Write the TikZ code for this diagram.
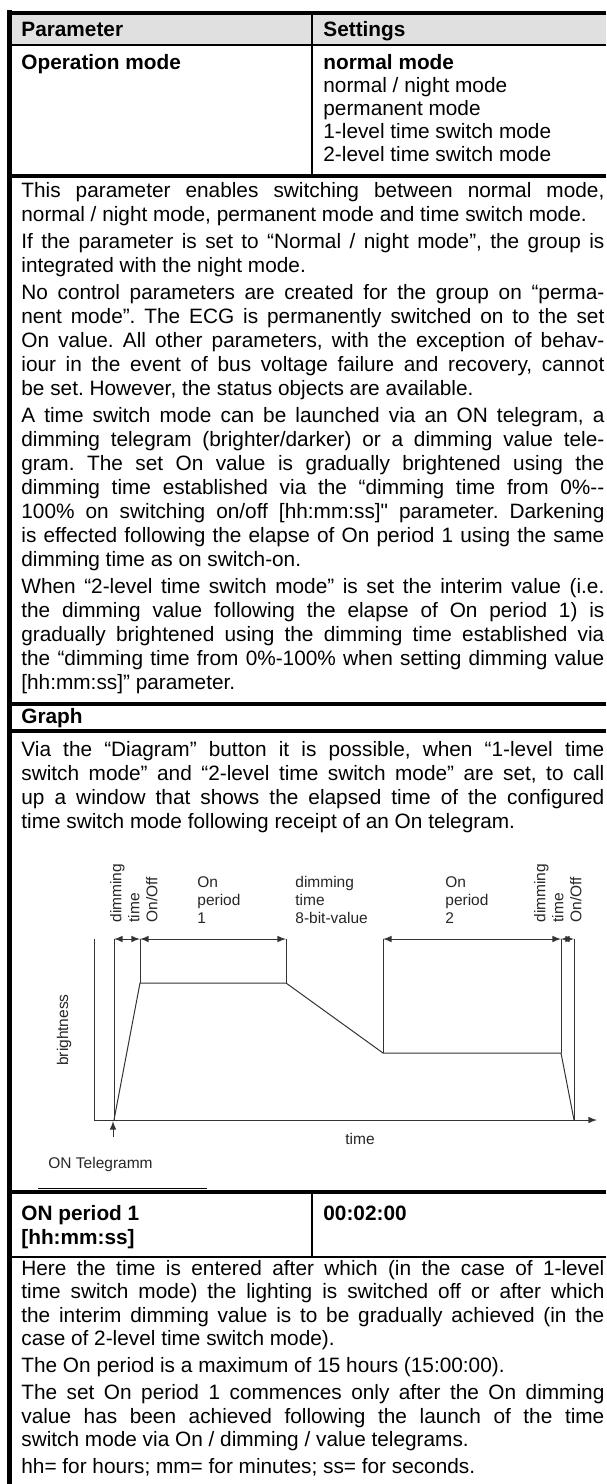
\documentclass[tikz,border=0pt]{standalone}
\usepackage{fontspec}
\setmainfont{Liberation Sans}[Ligatures=TeXOff]
\usetikzlibrary{arrows,shapes}

\newcommand{\jl}[1]{\makebox[291.5pt][s]{#1}}

\tikzset{
  celltext/.style={anchor=base west, inner sep=0pt, font=\fontsize{10.4}{12}\selectfont},
  cellhead/.style={celltext, font=\fontsize{10.4}{12}\selectfont\bfseries},
  plotlabel/.style={inner sep=0pt, align=left, font=\fontsize{7.75}{9}\selectfont, text=black!85},
  plotline/.style={draw=black!80, line width=0.5pt},
  hrule/.style={line width=2pt},
  vrule/.style={line width=1pt},
}

\frenchspacing
\begin{document}
\begin{tikzpicture}[x=0.5pt,y=-0.5pt]
\useasboundingbox (0,0) rectangle (606,1484);
% table frame
\fill[black!12] (12,15) rectangle (606,44);
\draw[hrule] (7,12.5) -- (606,12.5);
\draw[line width=1.25pt] (12,45) -- (606,45);
\draw[line width=2.5pt] (9.5,10) -- (9.5,1484);
\draw[vrule] (312,15) -- (312,174);
\draw[hrule] (7,176) -- (606,176);
\draw[hrule] (7,704) -- (606,704);
\draw[hrule] (7,731) -- (606,731);
\draw[line width=0.5pt] (38,1188.5) -- (207,1188.5);
\draw[hrule] (7,1192) -- (606,1192);
\draw[vrule] (312,1194) -- (312,1256);
\draw[line width=1pt] (12,1256.5) -- (606,1256.5);
% header and operation mode
\node[cellhead] (par) at (21,36) {Parameter};
\node[cellhead] (set) at (323,36) {Settings};
\node[cellhead] (opm) at (21,69) {Operation mode};
\node[cellhead] (nm) at (323,69) {normal mode};
\node[celltext] (nn) at (323,92) {normal / night mode};
\node[celltext] (pm) at (323,115) {permanent mode};
\node[celltext] (lv1) at (323,138) {1-level time switch mode};
\node[celltext] (lv2) at (323,161) {2-level time switch mode};
% description
\node[celltext] (b1) at (21,197) {\jl{This parameter enables switching between normal mode,}};
\node[celltext] (b2) at (21,221) {normal / night mode, permanent mode and time switch mode.};
\node[celltext] (b3) at (21,248) {\jl{If the parameter is set to “Normal / night mode”, the group is}};
\node[celltext] (b4) at (21,272) {integrated with the night mode.};
\node[celltext] (b5) at (21,299) {\jl{No control parameters are created for the group on “perma-}};
\node[celltext] (b6) at (21,323) {\jl{nent mode”. The ECG is permanently switched on to the set}};
\node[celltext] (b7) at (21,347) {\jl{On value. All other parameters, with the exception of behav-}};
\node[celltext] (b8) at (21,371) {\jl{iour in the event of bus voltage failure and recovery, cannot}};
\node[celltext] (b9) at (21,395) {be set. However, the status objects are available.};
\node[celltext] (b10) at (21,422) {\jl{A time switch mode can be launched via an ON telegram, a}};
\node[celltext] (b11) at (21,446) {\jl{dimming telegram (brighter/darker) or a dimming value tele-}};
\node[celltext] (b12) at (21,470) {\jl{gram. The set On value is gradually brightened using the}};
\node[celltext] (b13) at (21,494) {\jl{dimming time established via the “dimming time from 0\%--}};
\node[celltext] (b14) at (21,518) {\jl{100\% on switching on/off [hh:mm:ss]" parameter. Darkening}};
\node[celltext] (b15) at (21,542) {\jl{is effected following the elapse of On period 1 using the same}};
\node[celltext] (b16) at (21,566) {dimming time as on switch-on.};
\node[celltext] (b17) at (21,593) {\jl{When “2-level time switch mode” is set the interim value (i.e.}};
\node[celltext] (b18) at (21,617) {\jl{the dimming value following the elapse of On period 1) is}};
\node[celltext] (b19) at (21,641) {\jl{gradually brightened using the dimming time established via}};
\node[celltext] (b20) at (21,665) {\jl{the “dimming time from 0\%-100\% when setting dimming value}};
\node[celltext] (b21) at (21,689) {[hh:mm:ss]” parameter.};
% graph section
\node[cellhead] (gra) at (21,723) {Graph};
\node[celltext] (v1) at (21,756) {\jl{Via the “Diagram” button it is possible, when “1-level time}};
\node[celltext] (v2) at (21,780) {\jl{switch mode” and “2-level time switch mode” are set, to call}};
\node[celltext] (v3) at (21,804) {\jl{up a window that shows the elapsed time of the configured}};
\node[celltext] (v4) at (21,828) {time switch mode following receipt of an On telegram.};
% plot labels
\node[plotlabel, rotate=90, anchor=south west] (dtl) at (158,923) {dimming\\time\\On/Off};
\node[plotlabel, anchor=south west] (op1) at (197,924) {On\\period\\1};
\node[plotlabel, anchor=south west] (dt8) at (295,924) {dimming\\time\\8-bit-value};
\node[plotlabel, anchor=south west] (op2) at (445,924) {On\\period\\2};
\node[plotlabel, rotate=90, anchor=south west] (dtr) at (582,923) {dimming\\time\\On/Off};
\node[plotlabel, rotate=90] (bri) at (64,1030) {brightness};
\node[plotlabel, anchor=base] (tim) at (360,1144) {time};
\node[plotlabel, anchor=base west] (ont) at (48,1168) {ON Telegramm};
% plot points
\coordinate (o) at (94,1120);
\coordinate (ytop) at (94,939);
\coordinate (xend) at (597,1120);
\coordinate (s0) at (114,1120);
\coordinate (p1) at (140,983);
\coordinate (p2) at (286,983);
\coordinate (p3) at (383,1053);
\coordinate (p4) at (561,1053);
\coordinate (s1) at (574,1120);
\coordinate (d0) at (114,939);
\coordinate (d1) at (140,939);
\coordinate (d2) at (286,939);
\coordinate (d3) at (383,939);
\coordinate (d4) at (561,939);
\coordinate (d5) at (574,939);
\coordinate (ontail) at (113,1137);
\coordinate (ontip) at (113,1121);
% axes
\draw[plotline] (ytop) -- (o);
\draw[plotline, -latex] (o) -- (xend);
% brightness curve
\draw[plotline] (s0) -- (p1) -- (p2) -- (p3) -- (p4) -- (s1);
% time markers
\draw[plotline] (d0) -- (s0);
\draw[plotline] (d1) -- (p1);
\draw[plotline] (d2) -- (p2);
\draw[plotline] (d3) -- (p3);
\draw[plotline] (d4) -- (p4);
\draw[plotline] (d5) -- (s1);
\draw[plotline, latex-latex] (d0) -- (d1);
\draw[plotline, latex-latex] (d1) -- (d2);
\draw[plotline, latex-latex] (d3) -- (d4);
\draw[plotline, latex-latex] (d4) -- (d5);
\draw[plotline, -latex] (ontail) -- (ontip);
% on period 1
\node[cellhead] (onp) at (21,1220) {ON period 1};
\node[cellhead] (onu) at (21,1244) {[hh:mm:ss]};
\node[cellhead] (onv) at (323,1220) {00:02:00};
\node[celltext] (h1) at (21,1275) {\jl{Here the time is entered after which (in the case of 1-level}};
\node[celltext] (h2) at (21,1298.5) {\jl{time switch mode) the lighting is switched off or after which}};
\node[celltext] (h3) at (21,1322) {\jl{the interim dimming value is to be gradually achieved (in the}};
\node[celltext] (h4) at (21,1345.5) {case of 2-level time switch mode).};
\node[celltext] (h5) at (21,1372.5) {The On period is a maximum of 15 hours (15:00:00).};
\node[celltext] (h6) at (21,1399.5) {\jl{The set On period 1 commences only after the On dimming}};
\node[celltext] (h7) at (21,1423) {\jl{value has been achieved following the launch of the time}};
\node[celltext] (h8) at (21,1446.5) {switch mode via On / dimming / value telegrams.};
\node[celltext] (h9) at (21,1473.5) {hh= for hours; mm= for minutes; ss= for seconds.};
\end{tikzpicture}
\end{document}
